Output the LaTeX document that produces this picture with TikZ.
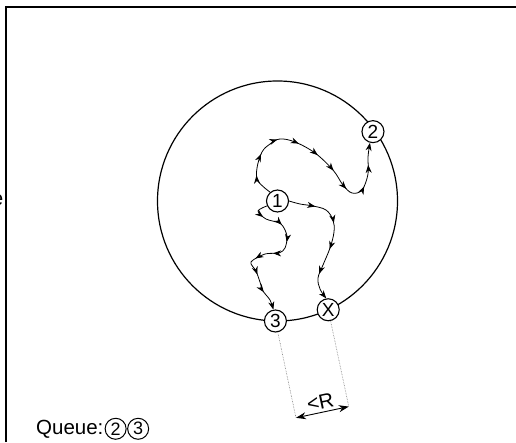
\documentclass[tikz,border=0pt]{standalone}
\usepackage{fontspec}
\setmainfont{Liberation Sans}
\usetikzlibrary{arrows.meta,positioning,calc,decorations.markings}
\definecolor{inkdark}{HTML}{000000}
\definecolor{guidegray}{HTML}{7A7A7A}
\tikzset{
  >={Stealth[length=8pt,width=6pt,inset=2.5pt]},
  numnode/.style={circle, draw=inkdark, fill=white, line width=1.1pt,
                  inner sep=0pt, minimum size=22pt,
                  font=\fontsize{19}{19}\selectfont},
  qnode/.style={circle, draw=inkdark, line width=1pt,
                inner sep=0pt, minimum size=21pt,
                font=\fontsize{18}{18}\selectfont},
  label/.style={font=\fontsize{20.5}{20.5}\selectfont, text=inkdark},
  rim/.style={draw=inkdark, line width=1.2pt},
  walk/.style={->, draw=inkdark, line width=0.8pt},
  midtip/.style={postaction={decorate, decoration={markings,
                 mark=at position #1 with {\arrow{Stealth[length=8pt,width=6pt,inset=2.5pt]}}}}},
  guide/.style={draw=guidegray, line width=0.6pt, densely dotted},
  dimline/.style={<->, >={Stealth[length=10pt,width=7pt]}, draw=inkdark, line width=0.9pt},
  frame/.style={draw=inkdark, line width=1.3pt}
}

\begin{document}
\begin{tikzpicture}[x=1pt,y=1pt]
\useasboundingbox (0,0) rectangle (516,442);

% ------------------------------------------------------------
% frame and cut-off text
% ------------------------------------------------------------
\draw[frame] (6,0) -- (6,435) -- (516,435);
\node[label, anchor=base east, inner sep=0pt] (cut) at (3.5,236) {e};

% ------------------------------------------------------------
% search radius and visited points
% ------------------------------------------------------------
\coordinate (ctr) at (277.5,241);
\draw[rim] (ctr) circle (120pt);

\node[numnode] (n1) at (ctr) {1};
\node[numnode] (n2) at ($(ctr)+(36:118pt)$) {2};
\node[numnode] (n3) at ($(ctr)+(-91:120pt)$) {3};
\node[numnode] (nx) at ($(ctr)+(-65:120pt)$) {X};

% random walks out of 1
\draw[walk, midtip/.list={0.1,0.2,0.3,0.4,0.5,0.6,0.7,0.8,0.9}]
  plot[smooth, tension=0.6] coordinates {(n1.130) (258,261) (257,274) (262,290)
  (270,298) (280,303) (295,300) (315,289) (333,272) (343,257) (352,249) (362,252)
  (368,268) (368,285) (n2.255)};
\draw[walk, midtip/.list={0.2,0.4,0.6,0.8}]
  plot[smooth, tension=0.6] coordinates {(n1.east) (300,238) (313,236)
  (326,232) (333,222) (334,210) (330,194) (323,177) (318,164) (320,153) (nx.100)};
\draw[walk, midtip/.list={0.12,0.25,0.37,0.5,0.62,0.75,0.87}]
  plot[smooth, tension=0.5] coordinates {(n1.205) (258,231) (266,223)
  (281,218) (287,206) (285,194) (279,189) (265,188) (251,180) (256,171) (260,160)
  (263,151) (270,142) (n3.100)};

% ------------------------------------------------------------
% distance between 3 and X
% ------------------------------------------------------------
\coordinate (d3) at ($(n3)!99pt!-90:(nx)$);
\coordinate (dx) at ($(nx)!99pt!90:(n3)$);
\draw[guide] (n3) -- (d3);
\draw[guide] (nx) -- (dx);
\draw[dimline] (d3) -- node[label, sloped, above, inner sep=3pt] (rlabel) {<R} (dx);

% ------------------------------------------------------------
% queue
% ------------------------------------------------------------
\node[label, anchor=base west, inner sep=0pt] (queue) at (36,8) {Queue:};
\node[qnode, right=1pt of queue] (q2) {2};
\node[qnode, right=0.5pt of q2] (q3) {3};

\end{tikzpicture}
\end{document}
